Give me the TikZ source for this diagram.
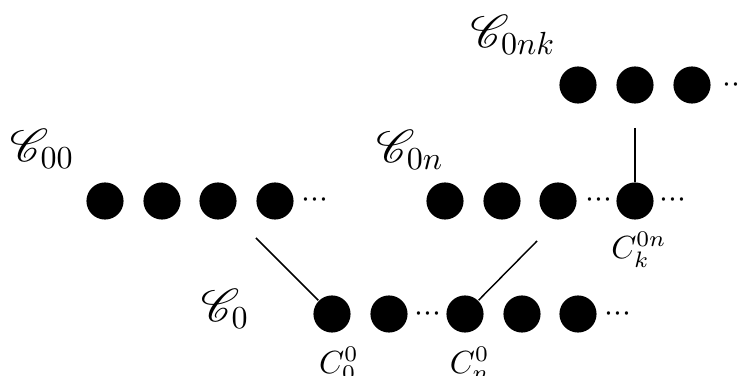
\documentclass[tikz,border=0pt]{standalone}
\usepackage{mathrsfs}
\tikzset{
  blob/.style={circle, fill=black, inner sep=0pt, minimum size=11.6pt},
  more/.style={anchor=base, inner sep=0pt},
  lab/.style={inner sep=0pt},
  biglab/.style={inner sep=0pt, font=\Large},
}
\newcommand{\dotrow}{${\cdot}{\cdot}{\cdot}$}
\begin{document}
\begin{tikzpicture}[x=0.3125pt, y=-0.3125pt, line width=0.45pt]
\useasboundingbox (0,0) rectangle (741,376);
\clip (0,0) rectangle (741,376);

% sequence C_0
\node[blob] (a1) at (332,314) {};
\node[blob] (a2) at (389,314) {};
\node[more] (ae1) at (428,322) {\dotrow};
\node[blob] (a3) at (465,314) {};
\node[blob] (a4) at (522,314) {};
\node[blob] (a5) at (578,314) {};
\node[more] (ae2) at (618,322) {\dotrow};

% sequence C_00
\node[blob] (b1) at (105,201) {};
\node[blob] (b2) at (162,201) {};
\node[blob] (b3) at (218,201) {};
\node[blob] (b4) at (275,201) {};
\node[more] (be1) at (315,208) {\dotrow};

% sequence C_0n
\node[blob] (c1) at (445,201) {};
\node[blob] (c2) at (502,201) {};
\node[blob] (c3) at (558,201) {};
\node[more] (ce1) at (599,208) {\dotrow};
\node[blob] (c4) at (635,201) {};
\node[more] (ce2) at (673,208) {\dotrow};

% sequence C_0nk
\node[blob] (d1) at (578,85) {};
\node[blob] (d2) at (635,85) {};
\node[blob] (d3) at (692,85) {};
\node[more] (de1) at (736,93) {\dotrow};

% labels
\node[biglab] (L00) at (42,149) {$\mathscr{C}_{00}$};
\node[biglab] (L0n) at (410,150) {$\mathscr{C}_{0n}$};
\node[biglab] (L0nk) at (513,35) {$\mathscr{C}_{0nk}$};
\node[biglab] (L0) at (225,309) {$\mathscr{C}_{0}$};
\node[lab] (Ck) at (639,250) {$C^{0n}_{k}$};
\node[lab] (C0) at (339,364) {$C^{0}_{0}$};
\node[lab] (Cn) at (470,364) {$C^{0}_{n}$};

% links between levels
\coordinate (t1) at (256,238);
\coordinate (t2) at (537,241);
\coordinate (t3) at (635,128);
\draw (t1) -- (a1);
\draw (t2) -- (a3);
\draw (t3) -- (c4);
\end{tikzpicture}
\end{document}
